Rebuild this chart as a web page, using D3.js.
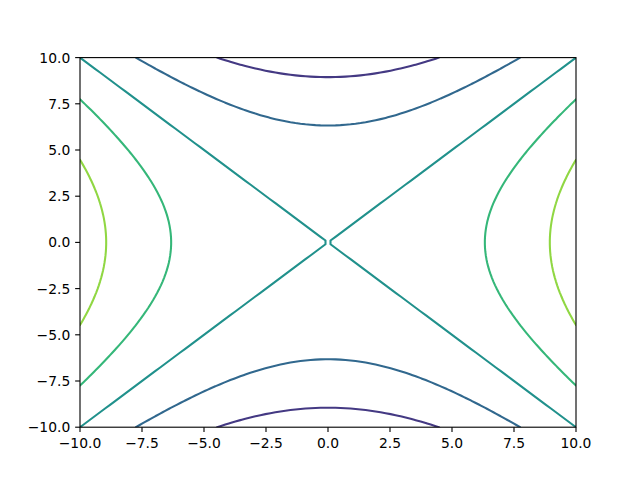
<!DOCTYPE html>
<html>
<head>
<meta charset="utf-8">
<script src="https://cdn.jsdelivr.net/npm/d3@7"></script>
<style>
  html, body { margin: 0; padding: 0; background: #fff; }
  svg { display: block; }
  text { font-family: "DejaVu Sans", sans-serif; font-size: 13.89px; fill: #000; }
</style>
</head>
<body>
<svg id="chart" width="640" height="480"></svg>
<script>
// ---- data ----
const xDomain = [-10, 10];
const yDomain = [-10, 10];
const gridSize = 100;                 // samples per axis
const levels = [-80, -40, 0, 40, 80]; // contour levels of z = x^2 - y^2
const colorRange = [-120, 120];       // level range used for the colour map
const xTicks = [-10, -7.5, -5, -2.5, 0, 2.5, 5, 7.5, 10];
const yTicks = [-10, -7.5, -5, -2.5, 0, 2.5, 5, 7.5, 10];

// ---- layout ----
const plotL = 80, plotR = 576, plotT = 57.6, plotB = 427.2;
const svg = d3.select("#chart");

const xs = d3.scaleLinear().domain(xDomain).range([plotL, plotR]);
const ys = d3.scaleLinear().domain(yDomain).range([plotB, plotT]);
const color = d3.scaleSequential(d3.interpolateViridis).domain(colorRange);

// grid coordinates (exactly symmetric)
const half = (gridSize - 1) / 2;
const gx = d3.range(gridSize).map(i => (i - half) / half * xDomain[1]);
const gy = d3.range(gridSize).map(j => (j - half) / half * yDomain[1]);
const values = new Array(gridSize * gridSize);
for (let j = 0; j < gridSize; j++)
  for (let i = 0; i < gridSize; i++)
    values[j * gridSize + i] = gx[i] * gx[i] - gy[j] * gy[j];

// contour coord c -> data value (sample i sits at c = i + 0.5)
const stepX = (xDomain[1] - xDomain[0]) / (gridSize - 1);
const stepY = (yDomain[1] - yDomain[0]) / (gridSize - 1);
const proj = d3.geoTransform({
  point: function (cx, cy) {
    this.stream.point(xs(xDomain[0] + (cx - 0.5) * stepX),
                      ys(yDomain[0] + (cy - 0.5) * stepY));
  }
});
const path = d3.geoPath(proj);

// matplotlib treats z == level as below, so nudge thresholds up a hair
const contours = d3.contours()
  .size([gridSize, gridSize])
  .thresholds(levels.map(l => l + 1e-9))(values);

svg.append("clipPath").attr("id", "plotclip")
  .append("rect")
  .attr("x", plotL).attr("y", plotT)
  .attr("width", plotR - plotL).attr("height", plotB - plotT);

svg.append("g").attr("clip-path", "url(#plotclip)")
  .selectAll("path")
  .data(contours)
  .join("path")
  .attr("d", path)
  .attr("fill", "none")
  .attr("stroke", (d, i) => color(levels[i]))
  .attr("stroke-width", 2.08)
  .attr("stroke-linejoin", "round");

// ---- axes ----
const fmt = d3.format(".1f");
const tickLen = 4.86, pad = 4.86;

const xg = svg.append("g");
xTicks.forEach(t => {
  xg.append("line")
    .attr("x1", xs(t)).attr("x2", xs(t))
    .attr("y1", plotB).attr("y2", plotB + tickLen)
    .attr("stroke", "#000").attr("stroke-width", 1.11);
  xg.append("text")
    .attr("x", xs(t)).attr("y", plotB + tickLen + pad + 10.6)
    .attr("text-anchor", "middle")
    .text(fmt(t));
});

const yg = svg.append("g");
yTicks.forEach(t => {
  yg.append("line")
    .attr("x1", plotL - tickLen).attr("x2", plotL)
    .attr("y1", ys(t)).attr("y2", ys(t))
    .attr("stroke", "#000").attr("stroke-width", 1.11);
  yg.append("text")
    .attr("x", plotL - tickLen - pad).attr("y", ys(t) + 5)
    .attr("text-anchor", "end")
    .text(fmt(t));
});

svg.append("rect")
  .attr("x", plotL).attr("y", plotT)
  .attr("width", plotR - plotL).attr("height", plotB - plotT)
  .attr("fill", "none").attr("stroke", "#000").attr("stroke-width", 1.11);
</script>
</body>
</html>
